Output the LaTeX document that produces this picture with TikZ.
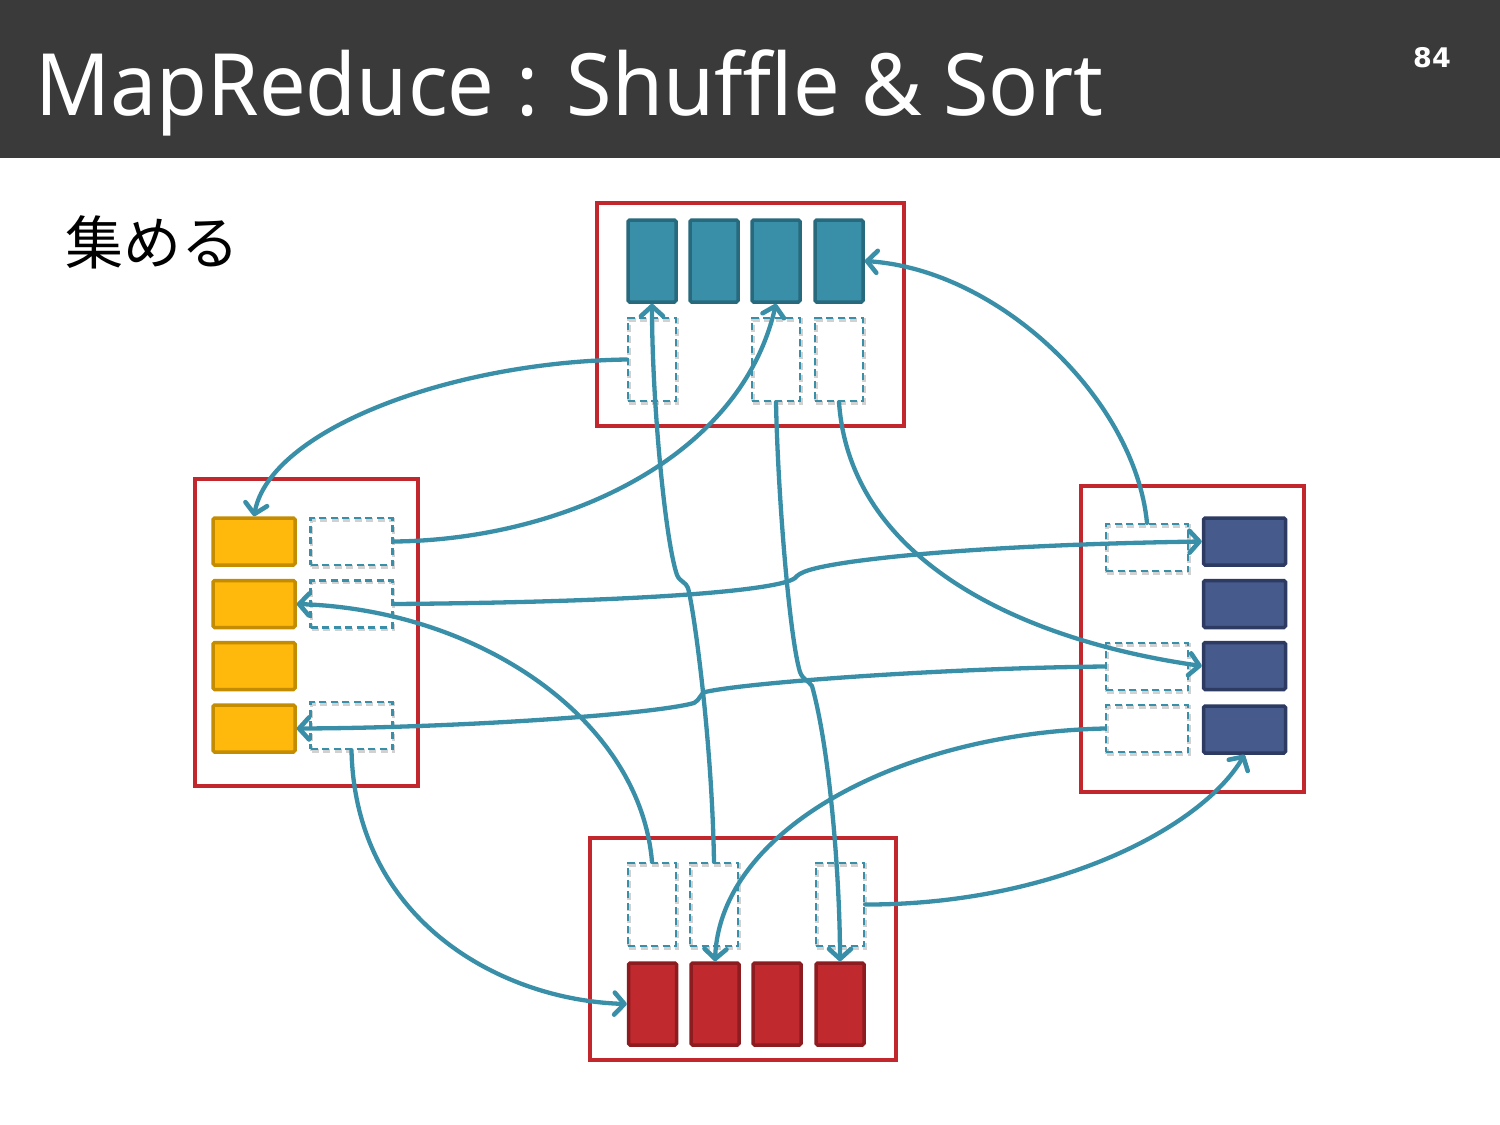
\documentclass[tikz,border=0pt]{standalone}
\usepackage{fontspec}
\setmainfont{Noto Sans}
\newfontfamily\cjk{Noto Sans CJK JP}
\newfontfamily\pnfont{DejaVu Sans}
\usetikzlibrary{arrows.meta}
\definecolor{hdr}{HTML}{3A3A3A}
\definecolor{linkc}{HTML}{3A8FA8}
\definecolor{grpred}{HTML}{C1272D}
\definecolor{tealf}{HTML}{3A8FA8}
\definecolor{teald}{HTML}{276A7E}
\definecolor{yelf}{HTML}{FFB80C}
\definecolor{yeld}{HTML}{C48C00}
\definecolor{navf}{HTML}{465A8C}
\definecolor{navd}{HTML}{2D3A62}
\definecolor{redf}{HTML}{C0292E}
\definecolor{redd}{HTML}{8C1C1F}
\tikzset{
  grp/.style={draw=grpred, line width=3.8pt, inner sep=0pt},
  vblk/.style={line width=3.5pt, inner sep=0pt, minimum width=48pt, minimum height=82pt, rounded corners=1.5pt},
  hblk/.style={line width=3.5pt, inner sep=0pt, minimum width=82pt, minimum height=47pt, rounded corners=1.5pt},
  tblk/.style={vblk, fill=tealf, draw=teald},
  rblk/.style={vblk, fill=redf, draw=redd},
  yblk/.style={hblk, fill=yelf, draw=yeld},
  nblk/.style={hblk, fill=navf, draw=navd},
  dbox/.style={draw=linkc, line width=2.3pt, dash pattern=on 7pt off 4.5pt, inner sep=0pt,
    preaction={draw=black!18, line width=3.5pt, dash pattern=on 7pt off 4.5pt,
      transform canvas={xshift=1.2pt, yshift=-1.8pt}}},
  vdash/.style={dbox, minimum width=48pt, minimum height=83pt},
  hdash/.style={dbox, minimum width=82pt, minimum height=47pt},
  link/.style={draw=linkc, line width=4.3pt, line cap=round, line join=round,
    -{Straight Barb[length=10pt,width=22pt,line width=4.6pt,line cap=round,line join=round]}},
}
\begin{document}
\begin{tikzpicture}[x=1pt,y=-1pt]
\useasboundingbox (0,0) rectangle (1500,1125);
\fill[hdr] (0,0) rectangle (1500,158);
\node[anchor=base west, inner sep=0pt, text=white, font=\fontsize{86}{90}\selectfont] (title) at (35,115) {\scalebox{0.963}[1]{MapReduce : Shuffle \& Sort}};
\node[inner sep=0pt, text=white, font=\pnfont\bfseries\fontsize{27}{30}\selectfont] (pnum) at (1432,58) {84};
\node[inner sep=0pt, font=\cjk\fontsize{58}{60}\selectfont] (atsu) at (152,242) {集める};

% groups
\node[grp, minimum width=307pt, minimum height=223pt] (gtop) at (750.5,314.5) {};
\node[grp, minimum width=223pt, minimum height=307pt] (gleft) at (306.5,632.5) {};
\node[grp, minimum width=223pt, minimum height=306pt] (gright) at (1192.5,639) {};
\node[grp, minimum width=306pt, minimum height=222pt] (gbot) at (743,949) {};

% top
\node[tblk] (t1) at (652,261) {};
\node[tblk] (t2) at (714,261) {};
\node[tblk] (t3) at (776,261) {};
\node[tblk] (t4) at (839,261) {};
\node[vdash] (td1) at (652,359.5) {};
\node[vdash] (td2) at (776,359.5) {};
\node[vdash] (td3) at (839,359.5) {};

% left
\node[yblk] (y1) at (254,541.5) {};
\node[yblk] (y2) at (254,604) {};
\node[yblk] (y3) at (254,666) {};
\node[yblk] (y4) at (254,728.5) {};
\node[hdash] (ld1) at (351.5,541.5) {};
\node[hdash] (ld2) at (351.5,604) {};
\node[hdash] (ld3) at (351.5,725.5) {};

% right
\node[nblk] (n1) at (1244.5,541.5) {};
\node[nblk] (n2) at (1244.5,604) {};
\node[nblk] (n3) at (1244.5,666) {};
\node[nblk] (n4) at (1244.5,729.5) {};
\node[hdash] (rd1) at (1147,547.5) {};
\node[hdash] (rd2) at (1147,666.5) {};
\node[hdash] (rd3) at (1147,728.5) {};

% bottom
\node[rblk] (b1) at (652.5,1004) {};
\node[rblk] (b2) at (715,1004) {};
\node[rblk] (b3) at (777,1004) {};
\node[rblk] (b4) at (840,1004) {};
\node[vdash] (bd1) at (652,904.5) {};
\node[vdash] (bd2) at (714,904.5) {};
\node[vdash] (bd3) at (840,904.5) {};

% connectors
\draw[link] (td1.west) .. controls (450,362) and (270,430) .. (y1.north);
\draw[link] (ld1.east) .. controls (560,540) and (740,460) .. (t3.south);
\draw[link] (ld2.east) .. controls (650,602) and (780,590) .. (795,578)
   .. controls (800,572) and (810,568) .. (850,562)
   .. controls (950,548) and (1100,543) .. (n1.west);
\draw[link] (rd1.north) .. controls (1135,400) and (1000,270) .. (t4.east);
\draw[link] (td3.south) .. controls (850,560) and (1020,640) .. (n3.west);
\draw[link] (rd2.west) .. controls (950,668) and (750,682) .. (705,692)
   .. controls (700,694) and (700,700) .. (694,703)
   .. controls (650,715) and (450,728) .. (y4.east);
\draw[link] (rd3.west) .. controls (900,733) and (720,830) .. (b2.north);
\draw[link] (bd3.east) .. controls (1050,905) and (1200,830) .. (n4.south);
\draw[link] (ld3.south) .. controls (355,920) and (500,1000) .. (b1.west);
\draw[link] (bd1.north) .. controls (640,720) and (480,610) .. (y2.east);
\draw[link] (bd2.north) .. controls (712,740) and (694,610) .. (688,588)
   .. controls (686,582) and (680,582) .. (677,575)
   .. controls (665,540) and (652,400) .. (t1.south);
\draw[link] (td2.south) .. controls (778,500) and (790,640) .. (800,672)
   .. controls (803,680) and (808,680) .. (812,686)
   .. controls (830,750) and (840,880) .. (b4.north);
\end{tikzpicture}
\end{document}
